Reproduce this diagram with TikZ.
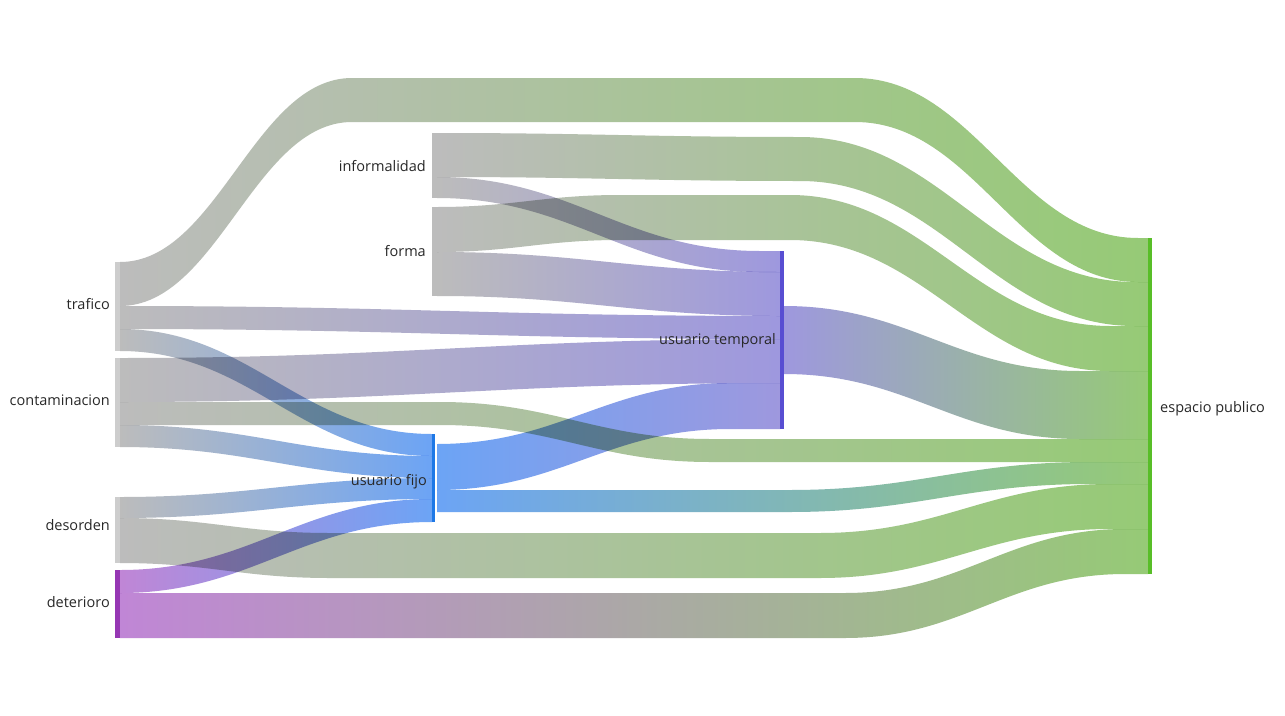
\documentclass[tikz,border=0pt]{standalone}
\usepackage{fontspec}
\newfontfamily\labfont{Open Sans}
\definecolor{cGray}{RGB}{188,188,188}
\definecolor{cGrayBar}{RGB}{205,205,205}
\definecolor{cUT}{RGB}{158,152,222}
\definecolor{cUTbar}{RGB}{88,78,210}
\definecolor{cUF}{RGB}{108,164,245}
\definecolor{cUFbar}{RGB}{30,120,230}
\definecolor{cEP}{RGB}{150,202,118}
\definecolor{cEPbar}{RGB}{88,190,40}
\definecolor{cDet}{RGB}{192,134,214}
\definecolor{cDetbar}{RGB}{150,55,180}
\definecolor{cText}{RGB}{40,40,40}
\def\kk{0.42}
\def\Sc(#1,#2)(#3,#4){.. controls ({#1+\kk*(#3-#1)},#2) and ({#3-\kk*(#3-#1)},#4) .. (#3,#4)}
\tikzset{
  lnk/.style={blend mode=multiply, draw=none},
  bar/.style={draw=none, inner sep=0pt, outer sep=0pt, minimum width=5pt},
  lbl/.style={font=\labfont\fontsize{14.5}{16}\selectfont, text=cText, inner sep=0pt}
}
\begin{document}
\begin{tikzpicture}[x=1pt,y=-1pt]
\useasboundingbox (0,0) rectangle (1285,715);
\fill[white] (0,0) rectangle (1285,715);

% trafico -> espacio publico
\shade[lnk, left color=cGray, right color=cEP] (120,262) \Sc(120,262)(352,78) -- (855,78) \Sc(855,78)(1138,238) -- (1148,238) -- (1148,282) -- (1138,282) \Sc(1138,282)(855,122) -- (352,122) \Sc(352,122)(120,306) -- cycle;
% informalidad -> espacio publico
\shade[lnk, left color=cGray, right color=cEP] (437,133) \Sc(437,133)(800,137) \Sc(800,137)(1135,282) -- (1148,282) -- (1148,326) -- (1135,326) \Sc(1135,326)(800,181) \Sc(800,181)(437,177) -- cycle;
% forma -> espacio publico
\shade[lnk, left color=cGray, right color=cEP] (437,207) \Sc(437,207)(620,195) -- (790,195) \Sc(790,195)(1110,326) -- (1148,326) -- (1148,371) -- (1110,371) \Sc(1110,371)(790,240) -- (620,240) \Sc(620,240)(437,252) -- cycle;
% usuario temporal -> espacio publico
\shade[lnk, left color=cUT, right color=cEP] (784,306) \Sc(784,306)(1080,371) -- (1148,371) -- (1148,439) -- (1080,439) \Sc(1080,439)(784,374) -- cycle;
% contaminacion -> espacio publico
\shade[lnk, left color=cGray, right color=cEP] (120,402) -- (440,402) \Sc(440,402)(710,439) -- (1148,439) -- (1148,462) -- (710,462) \Sc(710,462)(440,425) -- (120,425) -- cycle;
% usuario fijo -> espacio publico
\shade[lnk, left color=cUF, right color=cEP] (437,490) -- (790,490) \Sc(790,490)(1090,462) -- (1148,462) -- (1148,484) -- (1090,484) \Sc(1090,484)(790,512) -- (437,512) -- cycle;
% desorden -> espacio publico
\shade[lnk, left color=cGray, right color=cEP] (120,518) \Sc(120,518)(330,533) -- (820,533) \Sc(820,533)(1110,484) -- (1148,484) -- (1148,529) -- (1110,529) \Sc(1110,529)(820,578) -- (330,578) \Sc(330,578)(120,563) -- cycle;
% deterioro -> espacio publico
\shade[lnk, left color=cDet, right color=cEP] (120,593) -- (845,593) \Sc(845,593)(1125,529) -- (1148,529) -- (1148,574) -- (1125,574) \Sc(1125,574)(845,638) -- (120,638) -- cycle;

% links into usuario fijo
\shade[lnk, left color=cGray, right color=cUF] (120,329) \Sc(120,329)(432,434) -- (432,456) \Sc(432,456)(120,351) -- cycle;
\shade[lnk, left color=cGray, right color=cUF] (120,425) \Sc(120,425)(432,456) -- (432,478) \Sc(432,478)(120,447) -- cycle;
\shade[lnk, left color=cGray, right color=cUF] (120,497) \Sc(120,497)(432,478) -- (432,499) \Sc(432,499)(120,518) -- cycle;
\shade[lnk, left color=cDet, right color=cUF] (120,570) \Sc(120,570)(432,499) -- (432,522) \Sc(432,522)(120,593) -- cycle;

% links into usuario temporal
\shade[lnk, left color=cGray, right color=cUT] (437,177) \Sc(437,177)(760,251) -- (780,251) -- (780,272) -- (760,272) \Sc(760,272)(437,198) -- cycle;
\shade[lnk, left color=cGray, right color=cUT] (437,252) \Sc(437,252)(780,272) -- (780,316) \Sc(780,316)(437,296) -- cycle;
\shade[lnk, left color=cGray, right color=cUT] (120,306) \Sc(120,306)(780,316) -- (780,339) \Sc(780,339)(120,329) -- cycle;
\shade[lnk, left color=cGray, right color=cUT] (120,358) \Sc(120,358)(780,339) -- (780,383) \Sc(780,383)(120,402) -- cycle;
\shade[lnk, left color=cUF, right color=cUT] (437,444) \Sc(437,444)(730,383) -- (780,383) -- (780,429) -- (730,429) \Sc(730,429)(437,490) -- cycle;

% node bars
\node[bar, fill=cGrayBar, minimum height=89pt] (trafico) at (117.5,306.5) {};
\node[bar, fill=cGrayBar, minimum height=89pt] (contaminacion) at (117.5,402.5) {};
\node[bar, fill=cGrayBar, minimum height=66pt] (desorden) at (117.5,530) {};
\node[bar, fill=cDetbar, minimum height=68pt] (deterioro) at (117.5,604) {};
\node[bar, fill=cGray, minimum height=65pt] (informalidad) at (434.5,165.5) {};
\node[bar, fill=cGray, minimum height=89pt] (forma) at (434.5,251.5) {};
\node[bar, fill=cUFbar, minimum width=3pt, minimum height=88pt] (fijo) at (433.5,478) {};
\node[bar, fill=cUTbar, minimum width=4pt, minimum height=178pt] (temporal) at (782,340) {};
\node[bar, fill=cEPbar, minimum width=4pt, minimum height=336pt] (espacio) at (1150,406) {};

% labels
\node[lbl, anchor=mid east] (t-trafico) at (110,307) {trafico};
\node[lbl, anchor=mid east] (t-contaminacion) at (110,403) {contaminacion};
\node[lbl, anchor=mid east] (t-desorden) at (110,528) {desorden};
\node[lbl, anchor=mid east] (t-deterioro) at (110,605) {deterioro};
\node[lbl, anchor=mid east] (t-informalidad) at (426,169) {informalidad};
\node[lbl, anchor=mid east] (t-forma) at (426,254) {forma};
\node[lbl, anchor=mid east] (t-fijo) at (427,483) {usuario fijo};
\node[lbl, anchor=mid east] (t-temporal) at (776,342) {usuario temporal};
\node[lbl, anchor=mid west] (t-espacio) at (1160,410) {espacio publico};
\end{tikzpicture}
\end{document}
